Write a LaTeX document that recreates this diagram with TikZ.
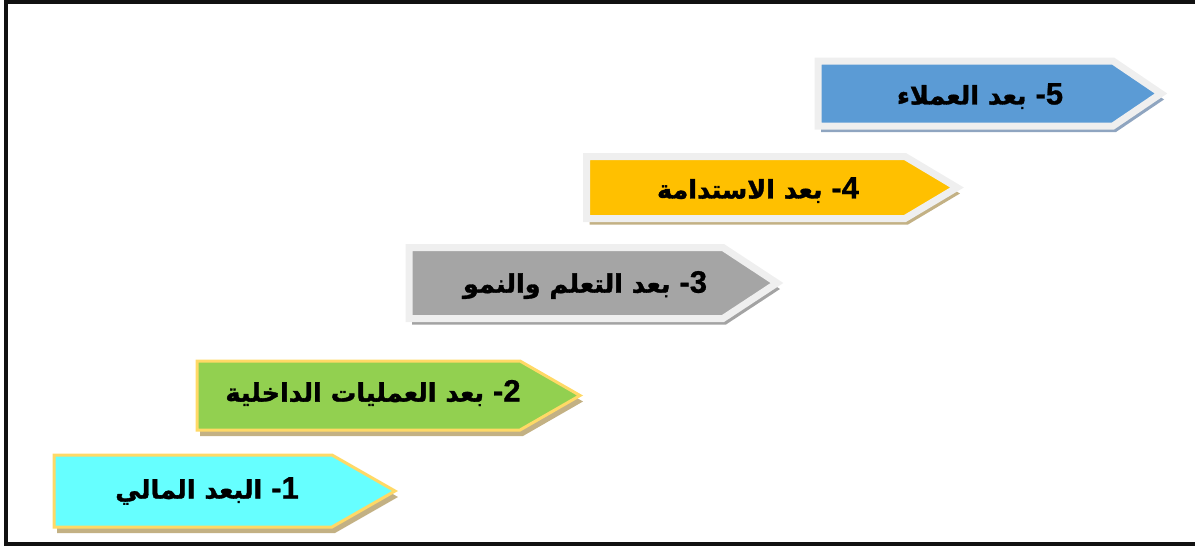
\documentclass[tikz,border=0pt]{standalone}
\usepackage{fontspec}
\TeXXeTstate=1
\newfontfamily\arabicfont[Script=Arabic, BoldFeatures={FakeBold=1.3}]{DejaVu Sans}
\newfontfamily\latinfont[BoldFeatures={FakeBold=0.8}]{Liberation Sans}
\definecolor{frameblack}{HTML}{111111}
\definecolor{lightborder}{HTML}{EFEFEF}
\definecolor{goldborder}{HTML}{FFD966}
\definecolor{bluefill}{HTML}{5B9BD5}
\definecolor{yellowfill}{HTML}{FFC000}
\definecolor{grayfill}{HTML}{A5A5A5}
\definecolor{greenfill}{HTML}{92D050}
\definecolor{cyanfill}{HTML}{66FFFF}
\definecolor{blueshadow}{HTML}{8FA5C0}
\definecolor{tanshadow}{HTML}{C3B184}
\definecolor{grayshadow}{HTML}{A3A3A3}
\newcommand{\arrowpath}[5]{(#1,#2) -- (#4,#2) -- (#5,{(#2+#3)/2}) -- (#4,#3) -- (#1,#3) -- cycle}
\newcommand{\dig}[1]{{\latinfont\bfseries\fontsize{31}{34}\selectfont #1}}
\tikzset{
  lbl/.style={font=\arabicfont\bfseries\fontsize{25.5}{30}\selectfont, text=black, inner sep=0pt, anchor=center},
  frameline/.style={draw=frameblack, line width=4pt},
}
\begin{document}
\begin{tikzpicture}[x=1pt,y=-1pt]
\useasboundingbox (0,0) rectangle (1195,547);
\clip (0,0) rectangle (1195,547);
\draw[frameline] (1210,2) -- (6,2) -- (6,544) -- (1210,544);
% shape 5
\fill[blueshadow, shift={(3,6)}] \arrowpath{818}{61}{126}{1113}{1161};
\filldraw[fill=bluefill, draw=lightborder, line width=7pt, line join=miter] \arrowpath{818}{61}{126}{1113}{1161};
% shape 4
\fill[tanshadow, shift={(3,6)}] \arrowpath{586.5}{156.5}{218.5}{905}{957};
\filldraw[fill=yellowfill, draw=lightborder, line width=7pt] \arrowpath{586.5}{156.5}{218.5}{905}{957};
% shape 3
\fill[grayshadow, shift={(3,6)}] \arrowpath{409}{247.5}{318.5}{723}{777};
\filldraw[fill=grayfill, draw=lightborder, line width=7pt] \arrowpath{409}{247.5}{318.5}{723}{777};
% shape 2
\fill[tanshadow, shift={(3,6)}] \arrowpath{197}{361}{430}{520}{580};
\filldraw[fill=greenfill, draw=goldborder, line width=3pt] \arrowpath{197}{361}{430}{520}{580};
% shape 1
\fill[tanshadow, shift={(3,6)}] \arrowpath{54}{455}{527}{332}{395};
\filldraw[fill=cyanfill, draw=goldborder, line width=3pt] \arrowpath{54}{455}{527}{332}{395};
% labels
\node[lbl] (t5) at (980,96) {\beginR بعد العملاء\endR\ \dig{-5}};
\node[lbl] (t4) at (758,190) {\beginR بعد الاستدامة\endR\ \dig{-4}};
\node[lbl] (t3) at (585,285) {\beginR بعد التعلم والنمو\endR\ \dig{-3}};
\node[lbl] (t2) at (373,393) {\beginR بعد العمليات الداخلية\endR\ \dig{-2}};
\node[lbl] (t1) at (207,491) {\beginR البعد المالي\endR\ \dig{-1}};
\end{tikzpicture}
\end{document}
